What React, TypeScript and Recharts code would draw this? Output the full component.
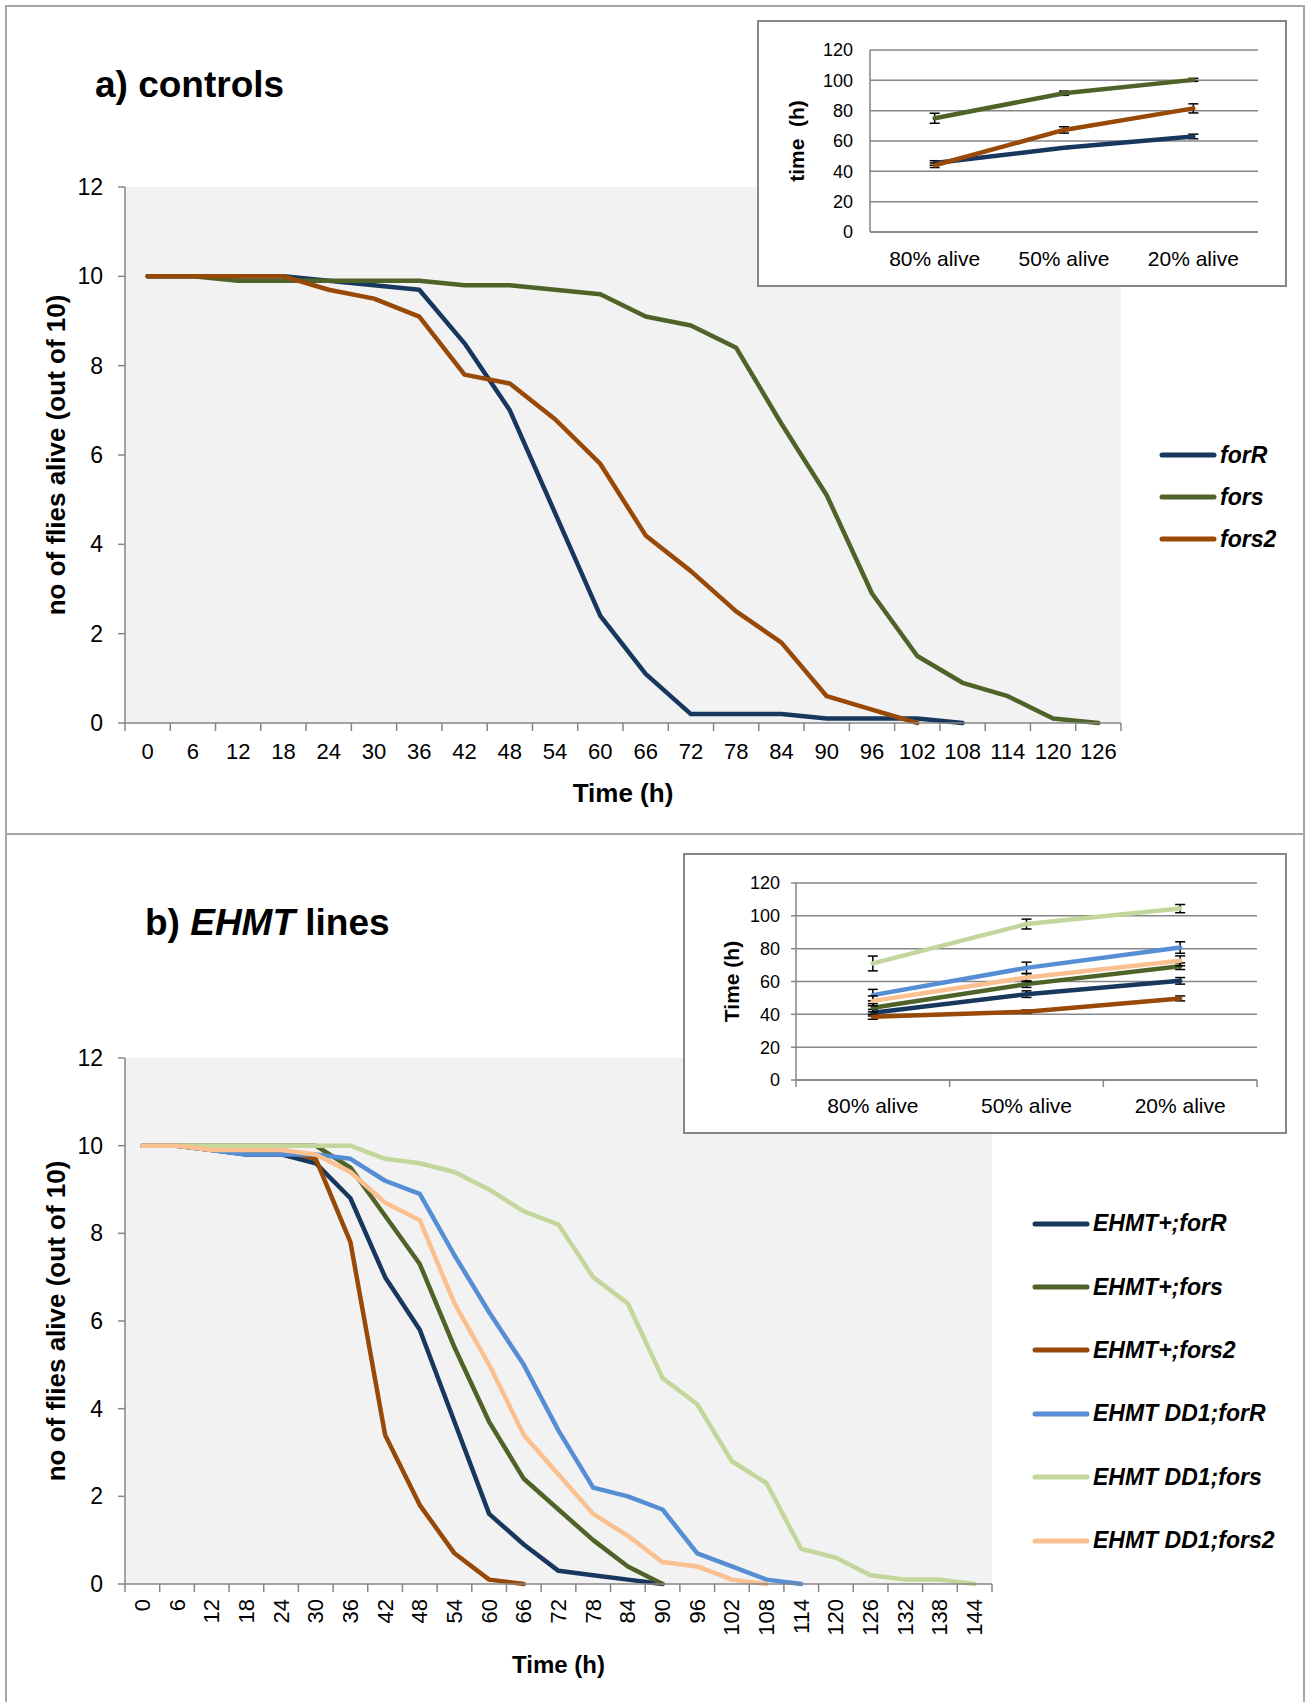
import React from 'react';
import { LineChart, Line, XAxis, YAxis, CartesianGrid, Legend, ErrorBar } from 'recharts';

const FONT = '"Liberation Sans", Arial, Helvetica, sans-serif';
const AXIS = '#868686';

const NAVY = '#17375E';
const OLIVE = '#4F6228';
const RUST = '#984807';
const SKY = '#558ED5';
const SAGE = '#C3D69B';
const PEACH = '#FAC090';

// a) controls, survival curves (flies alive out of 10)
const hoursA = [0, 6, 12, 18, 24, 30, 36, 42, 48, 54, 60, 66, 72, 78, 84, 90, 96, 102, 108, 114, 120, 126];
const ctlForR = [10, 10, 10, 10, 9.9, 9.8, 9.7, 8.5, 7.0, 4.7, 2.4, 1.1, 0.2, 0.2, 0.2, 0.1, 0.1, 0.1, 0, null, null, null];
const ctlFors = [10, 10, 9.9, 9.9, 9.9, 9.9, 9.9, 9.8, 9.8, 9.7, 9.6, 9.1, 8.9, 8.4, 6.7, 5.1, 2.9, 1.5, 0.9, 0.6, 0.1, 0];
const ctlFors2 = [10, 10, 10, 10, 9.7, 9.5, 9.1, 7.8, 7.6, 6.8, 5.8, 4.2, 3.4, 2.5, 1.8, 0.6, 0.3, 0, null, null, null, null];
const namesA = ['forR', 'fors', 'fors2'];

// b) EHMT lines, survival curves
const hoursB = [0, 6, 12, 18, 24, 30, 36, 42, 48, 54, 60, 66, 72, 78, 84, 90, 96, 102, 108, 114, 120, 126, 132, 138, 144];
const plusForR = [10, 10, 9.9, 9.8, 9.8, 9.6, 8.8, 7.0, 5.8, 3.7, 1.6, 0.9, 0.3, 0.2, 0.1, 0, null, null, null, null, null, null, null, null, null];
const plusFors = [10, 10, 10, 10, 10, 10, 9.5, 8.4, 7.3, 5.4, 3.7, 2.4, 1.7, 1.0, 0.4, 0, null, null, null, null, null, null, null, null, null];
const plusFors2 = [10, 10, 9.9, 9.9, 9.9, 9.7, 7.8, 3.4, 1.8, 0.7, 0.1, 0, null, null, null, null, null, null, null, null, null, null, null, null, null];
const ddForR = [10, 10, 9.9, 9.8, 9.8, 9.8, 9.7, 9.2, 8.9, 7.5, 6.2, 5.0, 3.5, 2.2, 2.0, 1.7, 0.7, 0.4, 0.1, 0, null, null, null, null, null];
const ddFors = [10, 10, 10, 10, 10, 10, 10, 9.7, 9.6, 9.4, 9.0, 8.5, 8.2, 7.0, 6.4, 4.7, 4.1, 2.8, 2.3, 0.8, 0.6, 0.2, 0.1, 0.1, 0];
const ddFors2 = [10, 10, 9.9, 9.9, 9.9, 9.8, 9.4, 8.7, 8.3, 6.4, 5.0, 3.4, 2.5, 1.6, 1.1, 0.5, 0.4, 0.1, 0, null, null, null, null, null, null];
const namesB = ['EHMT+;forR', 'EHMT+;fors', 'EHMT+;fors2', 'EHMT DD1;forR', 'EHMT DD1;fors', 'EHMT DD1;fors2'];

const survivalTicks = [0, 2, 4, 6, 8, 10, 12];

// insets: time (h) to reach a survival level, with error bars
const levels = ['80% alive', '50% alive', '20% alive'];
const insetTicks = [0, 20, 40, 60, 80, 100, 120];

const inAForR = [45.5, 55.5, 63];
const inAForRErr = [1.5, 0.5, 1.5];
const inAFors = [75, 91.5, 100.3];
const inAForsErr = [3.3, 1.4, 1];
const inAFors2 = [44, 67.3, 81.5];
const inAFors2Err = [1.5, 2.1, 3];

const inBPlusForR = [41, 52.3, 60.4];
const inBPlusForRErr = [2, 2, 2];
const inBPlusFors = [44, 58.4, 69.3];
const inBPlusForsErr = [2.5, 2, 2];
const inBPlusFors2 = [38.5, 41.6, 49.7];
const inBPlusFors2Err = [1.5, 1, 1.5];
const inBDdForR = [51.7, 68.3, 80.7];
const inBDdForRErr = [3.5, 3.5, 3.5];
const inBDdFors = [71, 95, 104.4];
const inBDdForsErr = [4.5, 3, 2.5];
const inBDdFors2 = [48.2, 62.4, 72.6];
const inBDdFors2Err = [3, 2.5, 3];

const rowsA = hoursA.map((t, i) => ({ t, forR: ctlForR[i], fors: ctlFors[i], fors2: ctlFors2[i] }));
const rowsB = hoursB.map((t, i) => ({
  t,
  pForR: plusForR[i], pFors: plusFors[i], pFors2: plusFors2[i],
  dForR: ddForR[i], dFors: ddFors[i], dFors2: ddFors2[i],
}));
const insetRowsA = levels.map((l, i) => ({
  l,
  forR: inAForR[i], forRErr: inAForRErr[i],
  fors: inAFors[i], forsErr: inAForsErr[i],
  fors2: inAFors2[i], fors2Err: inAFors2Err[i],
}));
const insetRowsB = levels.map((l, i) => ({
  l,
  pForR: inBPlusForR[i], pForRErr: inBPlusForRErr[i],
  pFors: inBPlusFors[i], pForsErr: inBPlusForsErr[i],
  pFors2: inBPlusFors2[i], pFors2Err: inBPlusFors2Err[i],
  dForR: inBDdForR[i], dForRErr: inBDdForRErr[i],
  dFors: inBDdFors[i], dForsErr: inBDdForsErr[i],
  dFors2: inBDdFors2[i], dFors2Err: inBDdFors2Err[i],
}));

// excel style category ticks: label in the middle of the band, tick mark on the band edges
type TickOpts = { band: number; count: number; mark: number; dy: number; size: number; rotate?: boolean };
const bandTick = (o: TickOpts) => (props: any) => {
  const { x, y, payload } = props;
  const i = payload?.index ?? props.index;
  const left = x - o.band / 2;
  const right = x + o.band / 2;
  const ty = y + o.dy;
  return (
    <g>
      {o.mark > 0 && <line x1={left} x2={left} y1={y} y2={y + o.mark} stroke={AXIS} strokeWidth={1.5} />}
      {o.mark > 0 && i === o.count - 1 && <line x1={right} x2={right} y1={y} y2={y + o.mark} stroke={AXIS} strokeWidth={1.5} />}
      {o.rotate ? (
        <text x={x} y={ty} transform={`rotate(-90 ${x} ${ty})`} textAnchor="end" dominantBaseline="central"
          fontSize={o.size} fontFamily={FONT} fill="#000">{payload.value}</text>
      ) : (
        <text x={x} y={ty} textAnchor="middle" dominantBaseline="central"
          fontSize={o.size} fontFamily={FONT} fill="#000">{payload.value}</text>
      )}
    </g>
  );
};

// rotated y axis title, placed at chart x = cx
const yTitle = (value: string, size: number, cx: number) => ({
  content: (p: any) => {
    const vb = p.viewBox || {};
    const y = (vb.y ?? 0) + (vb.height ?? 0) / 2;
    return (
      <text x={cx} y={y} transform={`rotate(-90 ${cx} ${y})`} textAnchor="middle" dominantBaseline="central"
        fontSize={size} fontWeight="bold" fontFamily={FONT} fill="#000" style={{ whiteSpace: 'pre' }}>{value}</text>
    );
  },
});

const LegendList = ({ payload, row, order }: { payload?: any[]; row: number; order: string[] }) => {
  const items = [...(payload || [])].sort((a, b) => order.indexOf(a.value) - order.indexOf(b.value));
  return (
    <div>
      {items.map((p) => (
        <div key={p.value} style={{ display: 'flex', alignItems: 'center', height: row }}>
          <svg width={58} height={10} style={{ display: 'block' }}>
            <line x1={3} x2={55} y1={5} y2={5} stroke={p.color} strokeWidth={5} strokeLinecap="round" />
          </svg>
          <span style={{ marginLeft: 3, fontFamily: FONT, fontSize: 23, fontWeight: 'bold', fontStyle: 'italic', color: '#000', whiteSpace: 'nowrap' }}>
            {p.value}
          </span>
        </div>
      ))}
    </div>
  );
};

const lineProps = { type: 'linear' as const, dot: false, activeDot: false, isAnimationActive: false, strokeWidth: 4.5, strokeLinejoin: 'round' as const, strokeLinecap: 'round' as const, connectNulls: false };
const errProps = { width: 5, strokeWidth: 1.5, stroke: '#000', direction: 'y' as const, isAnimationActive: false };

const insetBox = (left: number, top: number, width: number, height: number): React.CSSProperties => ({
  position: 'absolute', left, top, width, height, boxSizing: 'border-box', border: `2px solid ${AXIS}`, background: '#fff',
});

export default function App() {
  const bandA = 996 / 22;
  const bandB = 867 / 25;
  const bandInA = 388 / 3;
  const bandInB = 461 / 3;

  return (
    <div style={{ position: 'absolute', left: 0, top: 0, width: 1307, height: 1702, overflow: 'hidden', background: '#fff', fontFamily: FONT }}>
      <div style={{ position: 'absolute', left: 5, top: 5, width: 1300, height: 830, boxSizing: 'border-box', border: '2px solid #a6a6a6' }} />
      <div style={{ position: 'absolute', left: 5, top: 833, width: 1300, height: 880, boxSizing: 'border-box', border: '2px solid #a6a6a6' }} />

      {/* a) controls */}
      <div style={{ position: 'absolute', left: 0, top: 0 }}>
        <LineChart width={1307} height={834} data={rowsA} margin={{ top: 187, right: 186, bottom: 31, left: 40 }}>
          <CartesianGrid fill="#F2F2F2" stroke="none" horizontal={false} vertical={false} />
          <XAxis dataKey="t" interval={0} padding={{ left: bandA / 2, right: bandA / 2 }} height={80}
            axisLine={{ stroke: AXIS, strokeWidth: 1.5 }} tickLine={false} tickSize={0} tickMargin={0}
            tick={bandTick({ band: bandA, count: hoursA.length, mark: 8, dy: 28, size: 22 })}
            label={{ value: 'Time (h)', position: 'insideBottom', offset: 1, fill: '#000', fontSize: 26, fontWeight: 'bold', fontFamily: FONT }} />
          <YAxis domain={[0, 12]} ticks={survivalTicks} width={85} interval={0}
            axisLine={{ stroke: AXIS, strokeWidth: 1.5 }} tickLine={{ stroke: AXIS, strokeWidth: 1.5 }} tickSize={7} tickMargin={15}
            tick={{ fill: '#000', fontSize: 23, fontFamily: FONT }}
            label={yTitle('no of flies alive (out of 10)', 26, 56)} />
          <Legend layout="vertical" align="center" verticalAlign="middle"
            wrapperStyle={{ left: 1159, top: 434, width: 150 }}
            content={(p: any) => <LegendList payload={p.payload} row={42} order={namesA} />} />
          <Line {...lineProps} dataKey="forR" name={namesA[0]} stroke={NAVY} />
          <Line {...lineProps} dataKey="fors" name={namesA[1]} stroke={OLIVE} />
          <Line {...lineProps} dataKey="fors2" name={namesA[2]} stroke={RUST} />
        </LineChart>
      </div>

      <div style={insetBox(757, 20, 530, 267)}>
        <LineChart width={526} height={263} data={insetRowsA} margin={{ top: 28, right: 27, bottom: 0, left: 51 }}>
          <CartesianGrid stroke={AXIS} strokeWidth={1.5} vertical={false} />
          <XAxis dataKey="l" interval={0} padding={{ left: bandInA / 2, right: bandInA / 2 }} height={53}
            axisLine={{ stroke: AXIS, strokeWidth: 1.5 }} tickLine={false} tickSize={0} tickMargin={0}
            tick={bandTick({ band: bandInA, count: levels.length, mark: 0, dy: 26, size: 21 })} />
          <YAxis domain={[0, 120]} ticks={insetTicks} width={60} interval={0}
            axisLine={{ stroke: AXIS, strokeWidth: 1.5 }} tickLine={false} tickSize={0} tickMargin={17}
            tick={{ fill: '#000', fontSize: 18, fontFamily: FONT }}
            label={yTitle('time  (h)', 21, 37)} />
          <Line {...lineProps} dataKey="forR" stroke={NAVY}><ErrorBar {...errProps} dataKey="forRErr" /></Line>
          <Line {...lineProps} dataKey="fors" stroke={OLIVE}><ErrorBar {...errProps} dataKey="forsErr" /></Line>
          <Line {...lineProps} dataKey="fors2" stroke={RUST}><ErrorBar {...errProps} dataKey="fors2Err" /></Line>
        </LineChart>
      </div>

      <div style={{ position: 'absolute', left: 95, top: 66, fontSize: 37, lineHeight: '37px', fontWeight: 'bold', whiteSpace: 'nowrap' }}>
        a) controls
      </div>

      {/* b) EHMT lines */}
      <div style={{ position: 'absolute', left: 0, top: 834 }}>
        <LineChart width={1307} height={868} data={rowsB} margin={{ top: 224, right: 315, bottom: 29, left: 40 }}>
          <CartesianGrid fill="#F2F2F2" stroke="none" horizontal={false} vertical={false} />
          <XAxis dataKey="t" interval={0} padding={{ left: bandB / 2, right: bandB / 2 }} height={89}
            axisLine={{ stroke: AXIS, strokeWidth: 1.5 }} tickLine={false} tickSize={0} tickMargin={0}
            tick={bandTick({ band: bandB, count: hoursB.length, mark: 8, dy: 15, size: 22, rotate: true })}
            label={{ value: 'Time (h)', position: 'insideBottom', offset: 0, fill: '#000', fontSize: 24, fontWeight: 'bold', fontFamily: FONT }} />
          <YAxis domain={[0, 12]} ticks={survivalTicks} width={85} interval={0}
            axisLine={{ stroke: AXIS, strokeWidth: 1.5 }} tickLine={{ stroke: AXIS, strokeWidth: 1.5 }} tickSize={7} tickMargin={15}
            tick={{ fill: '#000', fontSize: 23, fontFamily: FONT }}
            label={yTitle('no of flies alive (out of 10)', 26, 56)} />
          <Legend layout="vertical" align="center" verticalAlign="middle"
            wrapperStyle={{ left: 1032, top: 358, width: 270 }}
            content={(p: any) => <LegendList payload={p.payload} row={63.4} order={namesB} />} />
          <Line {...lineProps} dataKey="pForR" name={namesB[0]} stroke={NAVY} />
          <Line {...lineProps} dataKey="pFors" name={namesB[1]} stroke={OLIVE} />
          <Line {...lineProps} dataKey="pFors2" name={namesB[2]} stroke={RUST} />
          <Line {...lineProps} dataKey="dForR" name={namesB[3]} stroke={SKY} />
          <Line {...lineProps} dataKey="dFors" name={namesB[4]} stroke={SAGE} />
          <Line {...lineProps} dataKey="dFors2" name={namesB[5]} stroke={PEACH} />
        </LineChart>
      </div>

      <div style={insetBox(683, 853, 604, 281)}>
        <LineChart width={600} height={277} data={insetRowsB} margin={{ top: 28, right: 28, bottom: 0, left: 51 }}>
          <CartesianGrid stroke={AXIS} strokeWidth={1.5} vertical={false} />
          <XAxis dataKey="l" interval={0} padding={{ left: bandInB / 2, right: bandInB / 2 }} height={52}
            axisLine={{ stroke: AXIS, strokeWidth: 1.5 }} tickLine={false} tickSize={0} tickMargin={0}
            tick={bandTick({ band: bandInB, count: levels.length, mark: 7, dy: 25, size: 21 })} />
          <YAxis domain={[0, 120]} ticks={insetTicks} width={60} interval={0}
            axisLine={{ stroke: AXIS, strokeWidth: 1.5 }} tickLine={{ stroke: AXIS, strokeWidth: 1.5 }} tickSize={5} tickMargin={11}
            tick={{ fill: '#000', fontSize: 18, fontFamily: FONT }}
            label={yTitle('Time (h)', 21, 46)} />
          <Line {...lineProps} dataKey="pForR" stroke={NAVY}><ErrorBar {...errProps} dataKey="pForRErr" /></Line>
          <Line {...lineProps} dataKey="pFors" stroke={OLIVE}><ErrorBar {...errProps} dataKey="pForsErr" /></Line>
          <Line {...lineProps} dataKey="pFors2" stroke={RUST}><ErrorBar {...errProps} dataKey="pFors2Err" /></Line>
          <Line {...lineProps} dataKey="dForR" stroke={SKY}><ErrorBar {...errProps} dataKey="dForRErr" /></Line>
          <Line {...lineProps} dataKey="dFors" stroke={SAGE}><ErrorBar {...errProps} dataKey="dForsErr" /></Line>
          <Line {...lineProps} dataKey="dFors2" stroke={PEACH}><ErrorBar {...errProps} dataKey="dFors2Err" /></Line>
        </LineChart>
      </div>

      <div style={{ position: 'absolute', left: 145, top: 904, fontSize: 37, lineHeight: '37px', fontWeight: 'bold', whiteSpace: 'nowrap' }}>
        b) <i>EHMT</i> lines
      </div>
    </div>
  );
}
